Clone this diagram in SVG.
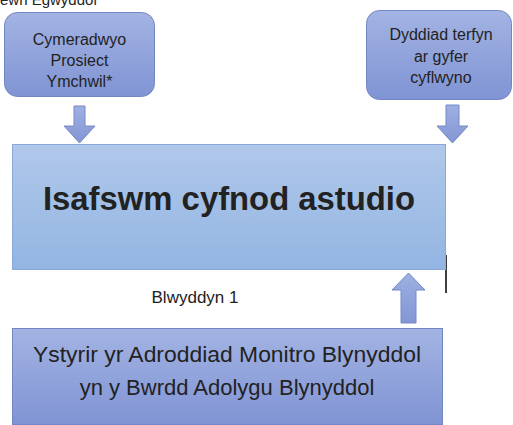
<svg xmlns="http://www.w3.org/2000/svg" width="513" height="425" viewBox="0 0 513 425">
<defs>
<linearGradient id="gMain" x1="0" y1="0" x2="0" y2="1"><stop offset="0" stop-color="#b0c8ea"/><stop offset="1" stop-color="#93b5e2"/></linearGradient>
<linearGradient id="gPurp" x1="0" y1="0" x2="0" y2="1"><stop offset="0" stop-color="#a3b3e3"/><stop offset="1" stop-color="#8094d4"/></linearGradient>
<linearGradient id="gArrow" x1="0" y1="0" x2="0" y2="1"><stop offset="0" stop-color="#9eb0e2"/><stop offset="1" stop-color="#8396d4"/></linearGradient>
<style>
.purp{fill:url(#gPurp);stroke:#7286c4;stroke-width:1}
.main{fill:url(#gMain);stroke:#8aa9d8;stroke-width:1}
.arr{fill:url(#gArrow);stroke:#7489c8;stroke-width:1}
.t{font-family:"Liberation Sans","Open Sans",sans-serif;fill:#222;text-anchor:middle}
</style>
</defs>
<text x="0" y="5" class="t" style="text-anchor:start;font-size:15px">ewn Egwyddol</text>
<g id="connectors">
<path class="arr" d="M74,106 H85 V126 H95 L79.5,143 L64,126 H74 Z"/>
<path class="arr" d="M446,105 H459 V126 H468 L452.5,143 L437,126 H446 Z"/>
<path class="arr" d="M401,323 V290 H392 L408.5,273 L425,290 H416 V323 Z"/>
<line x1="446" y1="255" x2="446" y2="293" stroke="#000" stroke-width="1.5"/>
</g>
<g id="node-approve">
<rect class="purp" x="4.5" y="12.5" width="150" height="84" rx="13"/>
<text class="t" x="79.5" y="45" font-size="16">Cymeradwyo</text>
<text class="t" x="79.5" y="66" font-size="16">Prosiect</text>
<text class="t" x="79.5" y="87" font-size="16">Ymchwil*</text>
</g>
<g id="node-deadline">
<rect class="purp" x="366.5" y="10.5" width="145" height="89" rx="13"/>
<text class="t" x="441" y="40" font-size="16">Dyddiad terfyn</text>
<text class="t" x="441" y="62" font-size="16">ar gyfer</text>
<text class="t" x="441" y="83" font-size="16">cyflwyno</text>
</g>
<g id="node-main">
<rect class="main" x="12.5" y="144.5" width="433" height="125"/>
<text class="t" x="229" y="210" font-size="34" font-weight="bold" fill="#1a1a1a" textLength="372" lengthAdjust="spacingAndGlyphs">Isafswm cyfnod astudio</text>
</g>
<g id="label-year">
<text class="t" x="195" y="303" font-size="17">Blwyddyn 1</text>
</g>
<g id="node-review">
<rect class="purp" x="12.5" y="328.5" width="430" height="96"/>
<text class="t" x="227" y="362" font-size="22" textLength="388" lengthAdjust="spacingAndGlyphs">Ystyrir yr Adroddiad Monitro Blynyddol</text>
<text class="t" x="227" y="395" font-size="22">yn y Bwrdd Adolygu Blynyddol</text>
</g>
</svg>
